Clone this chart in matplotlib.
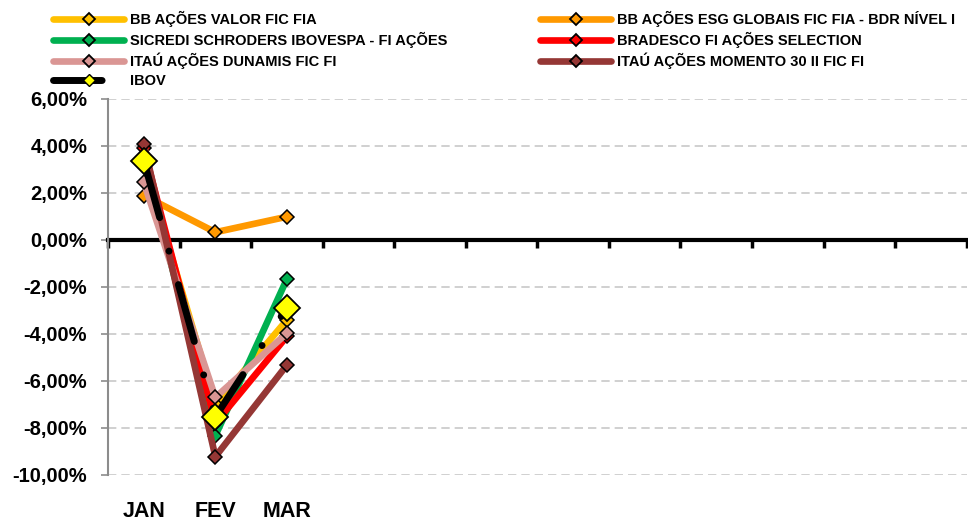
import numpy as np
import matplotlib
matplotlib.use('Agg')
import matplotlib.pyplot as plt
from matplotlib.lines import Line2D

plt.rcParams['font.family'] = ['Liberation Sans', 'DejaVu Sans']
plt.rcParams['font.weight'] = 'bold'

# months on the category axis (only the first three have labels)
months = ['JAN', 'FEV', 'MAR', '', '', '', '', '', '', '', '', '']

# monthly returns (%)
bbValor = [3.30, -7.00, -3.40]
bbEsg = [1.89, 0.33, 0.99]
sicredi = [3.50, -8.33, -1.66]
bradesco = [3.90, -7.80, -4.10]
itauDunamis = [2.45, -6.70, -3.97]
itauMomento = [4.10, -9.22, -5.32]
ibov = [3.37, -7.52, -2.88]

seriesNames = ['BB AÇÕES VALOR FIC FIA', 'BB AÇÕES ESG GLOBAIS FIC FIA - BDR NÍVEL I',
               'SICREDI SCHRODERS IBOVESPA - FI AÇÕES', 'BRADESCO FI AÇÕES SELECTION',
               'ITAÚ AÇÕES DUNAMIS FIC FI', 'ITAÚ AÇÕES MOMENTO 30 II FIC FI']
seriesValues = [bbValor, bbEsg, sicredi, bradesco, itauDunamis, itauMomento]
seriesColors = ['#FFC000', '#FF9900', '#00B050', '#FF0000', '#DA9694', '#953735']

yTicks = [6, 4, 2, 0, -2, -4, -6, -8, -10]

fig = plt.figure(figsize=(9.68, 5.21), dpi=100)
ax = fig.add_axes([0.1116, 0.0883, 0.887, 0.7217])

ibovDash = (0, (8.5, 5, 0.01, 5))

legHandles = {}
for name, vals, col in zip(seriesNames, seriesValues, seriesColors):
    x = np.arange(len(vals))
    ax.plot(x, vals, color=col, lw=4.8, marker='D', markersize=7.5,
            markerfacecolor=col, markeredgecolor='black', markeredgewidth=1.1,
            solid_capstyle='round', zorder=3)
    legHandles[name] = Line2D([], [], color=col, lw=4.8, marker='D', markersize=6.5,
                              markerfacecolor=col, markeredgecolor='black',
                              markeredgewidth=1.3, solid_capstyle='round')

x = np.arange(len(ibov))
ax.plot(x, ibov, color='black', lw=5, linestyle=ibovDash,
        dash_capstyle='round', marker='D', markersize=13,
        markerfacecolor='#FFFF00', markeredgecolor='black', markeredgewidth=1.3,
        zorder=4)
legHandles['IBOV'] = Line2D([], [], color='black', lw=5, linestyle=(0, (7, 5)),
                            dash_capstyle='round', marker='D', markersize=6,
                            markerfacecolor='#FFFF00', markeredgecolor='black',
                            markeredgewidth=1.0)

ax.set_xlim(-0.5, len(months) - 0.5)
ax.set_ylim(-10, 6)
ax.set_yticks(yTicks)
ax.set_yticklabels([f'{v:.2f}%'.replace('.', ',') for v in yTicks], fontsize=14.5, fontweight='bold')
ax.grid(axis='y', color='#C8C8C8', linestyle=(0, (5, 3)), lw=1.2)
ax.set_axisbelow(True)

for s in ['top', 'right']:
    ax.spines[s].set_visible(False)
ax.spines['left'].set_color('#8C8C8C')
ax.spines['left'].set_linewidth(1.5)
ax.tick_params(axis='y', colors='#8C8C8C', length=5, width=1.2, labelcolor='black', pad=10)

# category axis drawn through zero, tick marks at category boundaries
ax.spines['bottom'].set_position(('data', 0))
ax.spines['bottom'].set_linewidth(3)
ax.spines['bottom'].set_zorder(2)
ax.set_xticks(np.arange(len(months) + 1) - 0.5)
ax.set_xticklabels([])
ax.tick_params(axis='x', length=6, width=2.5, direction='out', color='black')

# month labels at the bottom of the plot
sec = ax.secondary_xaxis('bottom')
sec.spines['bottom'].set_visible(False)
sec.set_xticks(np.arange(len(months)))
sec.set_xticklabels(months, fontsize=15.5, fontweight='bold')
sec.tick_params(length=0, pad=19)

col1 = [seriesNames[0], seriesNames[2], seriesNames[4], 'IBOV']
col2 = [seriesNames[1], seriesNames[3], seriesNames[5]]
legProps = dict(loc='upper left', frameon=False, prop={'weight': 'bold', 'size': 10.5},
                handlelength=4.9, handletextpad=0.35, labelspacing=0.32,
                borderpad=0, borderaxespad=0)
leg1 = fig.legend([legHandles[n] for n in col1], col1, bbox_to_anchor=(53 / 968, 1 - 11 / 521), **legProps)
leg2 = fig.legend([legHandles[n] for n in col2], col2, bbox_to_anchor=(540 / 968, 1 - 11 / 521), **legProps)

fig.savefig('out.png', dpi=100)
